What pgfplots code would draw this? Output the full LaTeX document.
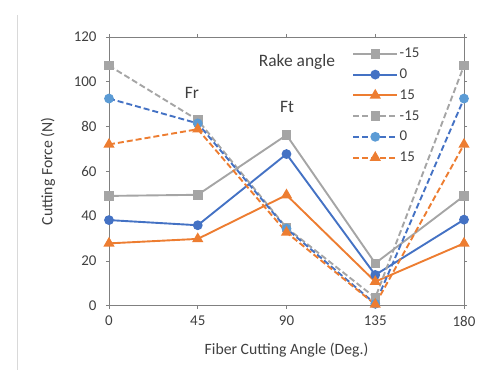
\documentclass[border=0pt]{standalone}
\usepackage{pgfplots}
\pgfplotsset{compat=1.18}
\usepackage{fontspec}
\setmainfont{Carlito}
\definecolor{cgray}{HTML}{A5A5A5}
\definecolor{cblue}{HTML}{4472C4}
\definecolor{corange}{HTML}{ED7D31}
\definecolor{clblue}{HTML}{5B9BD5}
\definecolor{ctext}{HTML}{404040}
\definecolor{caxis}{HTML}{808080}
\begin{document}
\begin{tikzpicture}
\begin{axis}[
  name=ax,
  scale only axis,
  width=355bp, height=268.6bp,
  xmin=0, xmax=180, ymin=0, ymax=120,
  xtick={0,45,90,135,180},
  ytick={0,20,40,60,80,100,120},
  tick align=outside,
  major tick length=3bp,
  tick style={caxis, line width=0.6bp},
  axis line style={caxis, line width=0.8bp},
  every tick label/.append style={font=\fontsize{15}{17}\selectfont, text=ctext},
  /pgf/number format/assume math mode=true,
  xticklabel style={yshift=-4bp},
  yticklabel style={xshift=-6bp},
  xlabel={Fiber Cutting Angle (Deg.)},
  ylabel={Cutting Force (N)},
  label style={font=\fontsize{15.8}{18}\selectfont, text=ctext},
  xlabel style={at={(rel axis cs:0.5,-0.1653)}, anchor=center},
  ylabel style={at={(rel axis cs:-0.1718,0.5)}, anchor=center},
  legend style={draw=none, fill=none, at={(rel axis cs:0.682,0.968)}, anchor=north west,
    font=\fontsize{15}{17}\selectfont, text=ctext, row sep=6.6bp, inner sep=1bp,
    nodes={inner sep=1.5bp}},
  legend cell align=left,
  legend image code/.code={\draw[mark repeat=2,mark phase=2,#1] plot coordinates {(0bp,0bp) (22bp,0bp) (44bp,0bp)};},
]
\addplot[cgray, line width=1.9bp, mark=square*, mark size=3.8bp, mark options={solid}] coordinates {(0,49) (45,49.5) (90,76.2) (135,18.9) (180,49)};
\addlegendentry{-15}
\addplot[cblue, line width=1.9bp, mark=*, mark size=3.9bp, mark options={solid}] coordinates {(0,38.2) (45,35.9) (90,67.7) (135,13.7) (180,38.4)};
\addlegendentry{0}
\addplot[corange, line width=1.9bp, mark=triangle*, mark size=4.6bp, mark options={solid}] coordinates {(0,27.8) (45,29.8) (90,49.4) (135,10.7) (180,27.8)};
\addlegendentry{15}
\addplot[cgray, line width=1.9bp, dash pattern=on 6bp off 3bp, mark=square*, mark size=3.8bp, mark options={solid}] coordinates {(0,107.2) (45,82.9) (90,34.8) (135,3.5) (180,107.2)};
\addlegendentry{-15}
\addplot[cblue, line width=1.9bp, dash pattern=on 6bp off 3bp, mark=*, mark size=3.9bp, mark options={solid, fill=clblue, draw=clblue}] coordinates {(0,92.5) (45,81.4) (90,34.4) (135,0.8) (180,92.5)};
\addlegendentry{0}
\addplot[corange, line width=1.9bp, dash pattern=on 6bp off 3bp, mark=triangle*, mark size=4.6bp, mark options={solid}] coordinates {(0,72) (45,78.8) (90,32.7) (135,0.5) (180,72)};
\addlegendentry{15}
\node[font=\fontsize{17.5}{20}\selectfont, text=ctext] at (axis cs:42.1,95) {Fr};
\node[font=\fontsize{17.5}{20}\selectfont, text=ctext] at (axis cs:90.3,88.7) {Ft};
\node[font=\fontsize{17.5}{20}\selectfont, text=ctext] at (axis cs:95.3,108.8) {Rake angle};
\end{axis}
\draw[color=black!15, line width=0.8bp] ([xshift=-92bp,yshift=-64.4bp]ax.south west) -- ([xshift=-92bp,yshift=22bp]ax.north west);
\pgfresetboundingbox
\useasboundingbox ([xshift=-109bp,yshift=-64.4bp]ax.south west) rectangle ([xshift=28bp,yshift=37bp]ax.north east);
\end{tikzpicture}
\end{document}
